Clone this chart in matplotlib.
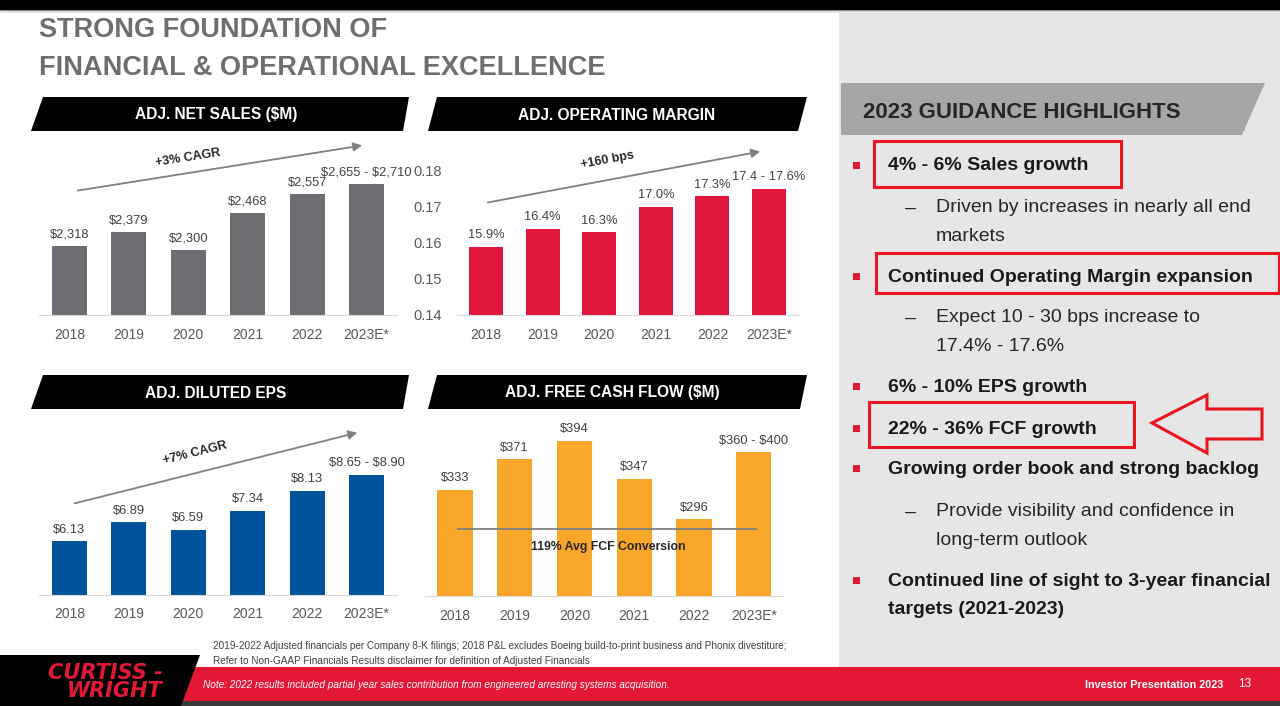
import matplotlib
matplotlib.use("Agg")
import matplotlib.pyplot as plt
from matplotlib.patches import Polygon, Rectangle

plt.rcParams["font.family"] = ["Liberation Sans", "DejaVu Sans"]

# data
years = ["2018", "2019", "2020", "2021", "2022", "2023E*"]
sales = [2318, 2379, 2300, 2468, 2557, 2600]
sales_labels = ["$2,318", "$2,379", "$2,300", "$2,468", "$2,557", "$2,655 - $2,710"]
margin = [0.159, 0.164, 0.163, 0.170, 0.173, 0.175]
margin_labels = ["15.9%", "16.4%", "16.3%", "17.0%", "17.3%", "17.4 - 17.6%"]
margin_ticks = [0.14, 0.15, 0.16, 0.17, 0.18]
eps = [6.13, 6.89, 6.59, 7.34, 8.13, 8.775]
eps_labels = ["$6.13", "$6.89", "$6.59", "$7.34", "$8.13", "$8.65 - $8.90"]
fcf = [333, 371, 394, 347, 296, 380]
fcf_labels = ["$333", "$371", "$394", "$347", "$296", "$360 - $400"]
fcf_avg_level = 284

guidance = [
    ("b", "4% - 6% Sales growth"),
    ("s", "Driven by increases in nearly all end\nmarkets"),
    ("b", "Continued Operating Margin expansion"),
    ("s", "Expect 10 - 30 bps increase to\n17.4% - 17.6%"),
    ("b", "6% - 10% EPS growth"),
    ("b", "22% - 36% FCF growth"),
    ("b", "Growing order book and strong backlog"),
    ("s", "Provide visibility and confidence in\nlong-term outlook"),
    ("b", "Continued line of sight to 3-year financial\ntargets (2021-2023)"),
]
guidance_y = [166, 208, 277, 318, 387, 429, 469, 512, 581]

W, H = 1280, 706
RED = "#e31837"
fig = plt.figure(figsize=(W / 100, H / 100), dpi=100)

bg = fig.add_axes([0, 0, 1, 1], zorder=0)
bg.set_xlim(0, W)
bg.set_ylim(H, 0)
bg.axis("off")

# slide frame
bg.add_patch(Rectangle((0, 0), W, 9, color="black"))
for i, a in enumerate([0.45, 0.3, 0.18, 0.08]):
    bg.add_patch(Rectangle((0, 9 + i), W, 1, color="black", alpha=a, lw=0))
bg.add_patch(Rectangle((839, 13), W - 839, 654, color="#e7e6e6", lw=0))

bg.text(39, 30, "STRONG FOUNDATION OF", fontsize=19.5, fontweight="bold", color="#6d6e71", va="center")
bg.text(39, 68, "FINANCIAL & OPERATIONAL EXCELLENCE", fontsize=19.5, fontweight="bold", color="#6d6e71", va="center")

# chart header bars
headers = [
    ("ADJ. NET SALES ($M)", 43, 409, 31, 403, 97, 131, 216),
    ("ADJ. OPERATING MARGIN", 437, 807, 428, 798, 97, 131, 617),
    ("ADJ. DILUTED EPS", 43, 409, 31, 403, 375, 409, 216),
    ("ADJ. FREE CASH FLOW ($M)", 437, 807, 428, 800, 375, 409, 612),
]
for txt, tl, tr, bl, br, yt, yb, cx in headers:
    bg.add_patch(Polygon([(tl, yt), (tr, yt), (br, yb), (bl, yb)], color="black", lw=0))
    bg.text(cx, (yt + yb) / 2 + 1, txt, fontsize=11.2, fontweight="bold", color="white",
            ha="center", va="center", parse_math=False)


def px_axes(x0, y0, x1, y1):
    ax = fig.add_axes([x0 / W, 1 - y1 / H, (x1 - x0) / W, (y1 - y0) / H], zorder=2)
    ax.set_facecolor("none")
    for s in ["top", "right", "left"]:
        ax.spines[s].set_visible(False)
    ax.spines["bottom"].set_color("#d9d9d9")
    ax.set_xlim(-0.51, 5.51)
    ax.tick_params(axis="x", length=0, pad=9, labelsize=10, labelcolor="#595959")
    return ax


def bars(ax, vals, labels, color, width):
    x = list(range(len(vals)))
    ax.bar(x, vals, width=width, color=color, zorder=2)
    ax.set_xticks(x, years)
    for xi, v, lab in zip(x, vals, labels):
        ax.annotate(lab, (xi, v), xytext=(0, 4), textcoords="offset points", parse_math=False,
                    ha="center", va="bottom", fontsize=9.3, color="#404040")


ax1 = px_axes(39, 162.4, 397, 315)
ax1.set_ylim(2000, 2700)
ax1.set_yticks([])
bars(ax1, sales, sales_labels, "#6d6e71", 0.59)

ax2 = px_axes(457, 171, 798, 315)
ax2.set_ylim(0.14, 0.18)
ax2.set_yticks(margin_ticks, [f"{t:.2f}" for t in margin_ticks])
ax2.tick_params(axis="y", length=0, pad=11, labelsize=10.5, labelcolor="#595959")
bars(ax2, margin, margin_labels, "#e2173d", 0.6)

ax3 = px_axes(39, 469, 397, 595)
ax3.set_ylim(4, 9)
ax3.set_yticks([])
bars(ax3, eps, eps_labels, "#00539b", 0.59)

ax4 = px_axes(425, 436.2, 783, 596)
ax4.set_xlim(-0.5, 5.49)
ax4.set_ylim(200, 400)
ax4.set_yticks([])
bars(ax4, fcf, fcf_labels, "#f9a72b", 0.59)
ax4.hlines(fcf_avg_level, 0.03, 5.06, color="#7f7f7f", lw=1.3, zorder=3)
ax4.text(2.56, 261, "119% Avg FCF Conversion", ha="center", va="center",
         fontsize=8.8, fontweight="bold", color="#262626", zorder=4)

# growth arrows
arrows = [
    ((75, 191), (365, 145), "+3% CAGR", (188, 158), 9),
    ((485, 203), (763, 151), "+160 bps", (607, 160), 10.5),
    ((72, 504), (360, 432), "+7% CAGR", (195, 453), 14),
]
for start, end, lab, pos, rot in arrows:
    bg.annotate("", xy=end, xytext=start,
                arrowprops=dict(arrowstyle="-|>", color="#7f7f7f", lw=1.3, mutation_scale=13))
    bg.text(pos[0], pos[1], lab, rotation=rot, ha="center", va="center",
            fontsize=9, fontweight="bold", color="#262626", rotation_mode="anchor")

# guidance panel
bg.add_patch(Polygon([(841, 83), (1265, 83), (1242, 135), (841, 135)], color="#a6a6a6", lw=0))
bg.text(863, 112, "2023 GUIDANCE HIGHLIGHTS", fontsize=16, fontweight="bold", color="#262626", va="center")
LINE = 28.5
for (kind, txt), y in zip(guidance, guidance_y):
    if kind == "b":
        bg.add_patch(Rectangle((853, y - 4), 7, 7, color=RED, lw=0))
        x, weight, col = 888, "bold", "#1a1a1a"
    else:
        bg.text(905, y, "\u2013", fontsize=14, color="#262626", va="center")
        x, weight, col = 936, "normal", "#262626"
    for i, line in enumerate(txt.split("\n")):
        bg.text(x, y + i * LINE, line, fontsize=14, fontweight=weight, color=col, va="center")

for x0, y0, x1, y1 in [(874, 141, 1121, 187), (876, 253, 1279, 293), (869, 402, 1134, 447)]:
    bg.add_patch(Rectangle((x0, y0), x1 - x0, y1 - y0, fill=False, edgecolor="#e8141f", lw=2.2))
bg.add_patch(Polygon([(1152, 423), (1207, 395), (1207, 409), (1262, 409), (1262, 439),
                      (1207, 439), (1207, 453)], closed=True, fill=False, edgecolor="#e8141f", lw=2.2))

# footer
bg.text(213, 646, "2019-2022 Adjusted financials per Company 8-K filings; 2018 P&L excludes Boeing "
        "build-to-print business and Phonix divestiture;", fontsize=7.2, color="#404040", va="center")
bg.text(213, 661, "Refer to Non-GAAP Financials Results disclaimer for definition of Adjusted Financials",
        fontsize=7.2, color="#404040", va="center")
bg.add_patch(Rectangle((0, 667), W, 34, color=RED, lw=0))
bg.add_patch(Rectangle((0, 701), W, 5, color="#3a3a3a", lw=0))
bg.add_patch(Polygon([(0, 655), (200, 655), (181, 706), (0, 706)], color="black", lw=0))
bg.text(163, 673, "CURTISS -", fontsize=15, fontweight="bold", style="italic", color=RED,
        ha="right", va="center", family="DejaVu Sans")
bg.text(163, 691, "WRIGHT", fontsize=15, fontweight="bold", style="italic", color=RED,
        ha="right", va="center", family="DejaVu Sans")
bg.text(203, 685, "Note: 2022 results included partial year sales contribution from engineered "
        "arresting systems acquisition.", fontsize=7.2, style="italic", color="white", va="center")
bg.text(1085, 685, "Investor Presentation 2023", fontsize=7.8, fontweight="bold", color="white", va="center")
bg.text(1238, 684, "13", fontsize=8.5, color="white", va="center")

fig.savefig("out.png", dpi=100)
